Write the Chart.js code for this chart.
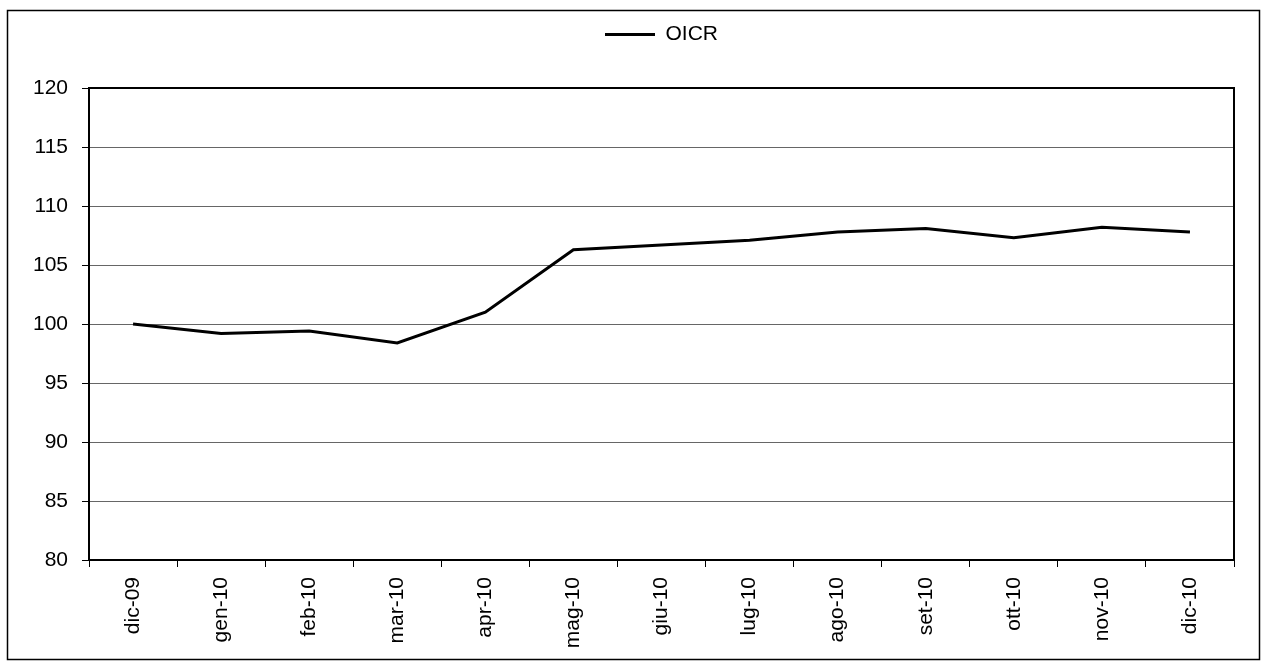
<!DOCTYPE html>
<html>
<head>
<meta charset="utf-8">
<script src="https://cdn.jsdelivr.net/npm/chart.js@4/dist/chart.umd.min.js"></script>
<style>
  html, body { margin: 0; padding: 0; background: #fff; }
  #wrap { width: 1268px; height: 668px; }
</style>
</head>
<body>
<div id="wrap"><canvas id="chart" width="1268" height="668"></canvas></div>
<script>
const months = ['dic-09', 'gen-10', 'feb-10', 'mar-10', 'apr-10', 'mag-10', 'giu-10',
                'lug-10', 'ago-10', 'set-10', 'ott-10', 'nov-10', 'dic-10'];
const oicr = [100.0, 99.2, 99.4, 98.4, 101.0, 106.3, 106.7, 107.1, 107.8, 108.1, 107.3, 108.2, 107.8];
const seriesName = 'OICR';
const yMin = 80;
const yMax = 120;
const yStep = 5;

const font = { family: 'Liberation Sans, Arial, sans-serif', size: 21 };

// outer frame + black border round the plot area
const frame = {
    id: 'frame',
    afterDraw(chart) {
        const ctx = chart.ctx;
        const a = chart.chartArea;
        ctx.save();
        ctx.strokeStyle = '#000';
        ctx.lineWidth = 2;
        ctx.strokeRect(a.left, a.top, a.right - a.left, a.bottom - a.top);
        ctx.lineWidth = 1.5;
        ctx.strokeRect(7.5, 10.5, 1252, 649);
        ctx.restore();
    }
};

// move the legend to sit centred over the plot, near the top
const legendShift = {
    id: 'legendShift',
    afterLayout(chart) {
        const lg = chart.legend;
        if (!lg) return;
        const a = chart.chartArea;
        const dx = (a.left + a.right) / 2 - (lg.left + lg.right) / 2;
        const dy = -33;
        lg.left += dx; lg.right += dx;
        lg.top += dy; lg.bottom += dy;
    }
};

new Chart(document.getElementById('chart').getContext('2d'), {
    type: 'line',
    data: {
        labels: months,
        datasets: [{
            label: seriesName,
            data: oicr,
            borderColor: '#000',
            backgroundColor: '#000',
            borderWidth: 3,
            pointRadius: 0,
            tension: 0,
            fill: false
        }]
    },
    options: {
        responsive: false,
        animation: false,
        layout: { padding: { left: 8, right: 34, top: 10, bottom: 8 } },
        plugins: {
            legend: {
                position: 'top',
                labels: {
                    color: '#000',
                    font: font,
                    boxWidth: 50,
                    boxHeight: 3,
                    padding: 47,
                    generateLabels(chart) {
                        const items = Chart.defaults.plugins.legend.labels.generateLabels(chart);
                        items.forEach(it => { it.lineWidth = 0; });
                        return items;
                    }
                }
            },
            tooltip: { enabled: false }
        },
        scales: {
            x: {
                offset: true,
                grid: {
                    offset: true,
                    drawOnChartArea: false,
                    drawTicks: true,
                    tickLength: 7,
                    tickColor: '#000'
                },
                border: { color: '#000', width: 2 },
                ticks: {
                    color: '#000',
                    font: font,
                    minRotation: 90,
                    maxRotation: 90,
                    padding: 10,
                    autoSkip: false
                },
                afterFit(scale) { scale.height = 100; }
            },
            y: {
                min: yMin,
                max: yMax,
                grid: {
                    color: '#666',
                    tickLength: 7,
                    tickColor: '#000'
                },
                border: { color: '#000', width: 2 },
                ticks: {
                    stepSize: yStep,
                    color: '#000',
                    font: font,
                    padding: 14
                },
                afterFit(scale) { scale.width = 81; }
            }
        }
    },
    plugins: [frame, legendShift]
});
</script>
</body>
</html>
